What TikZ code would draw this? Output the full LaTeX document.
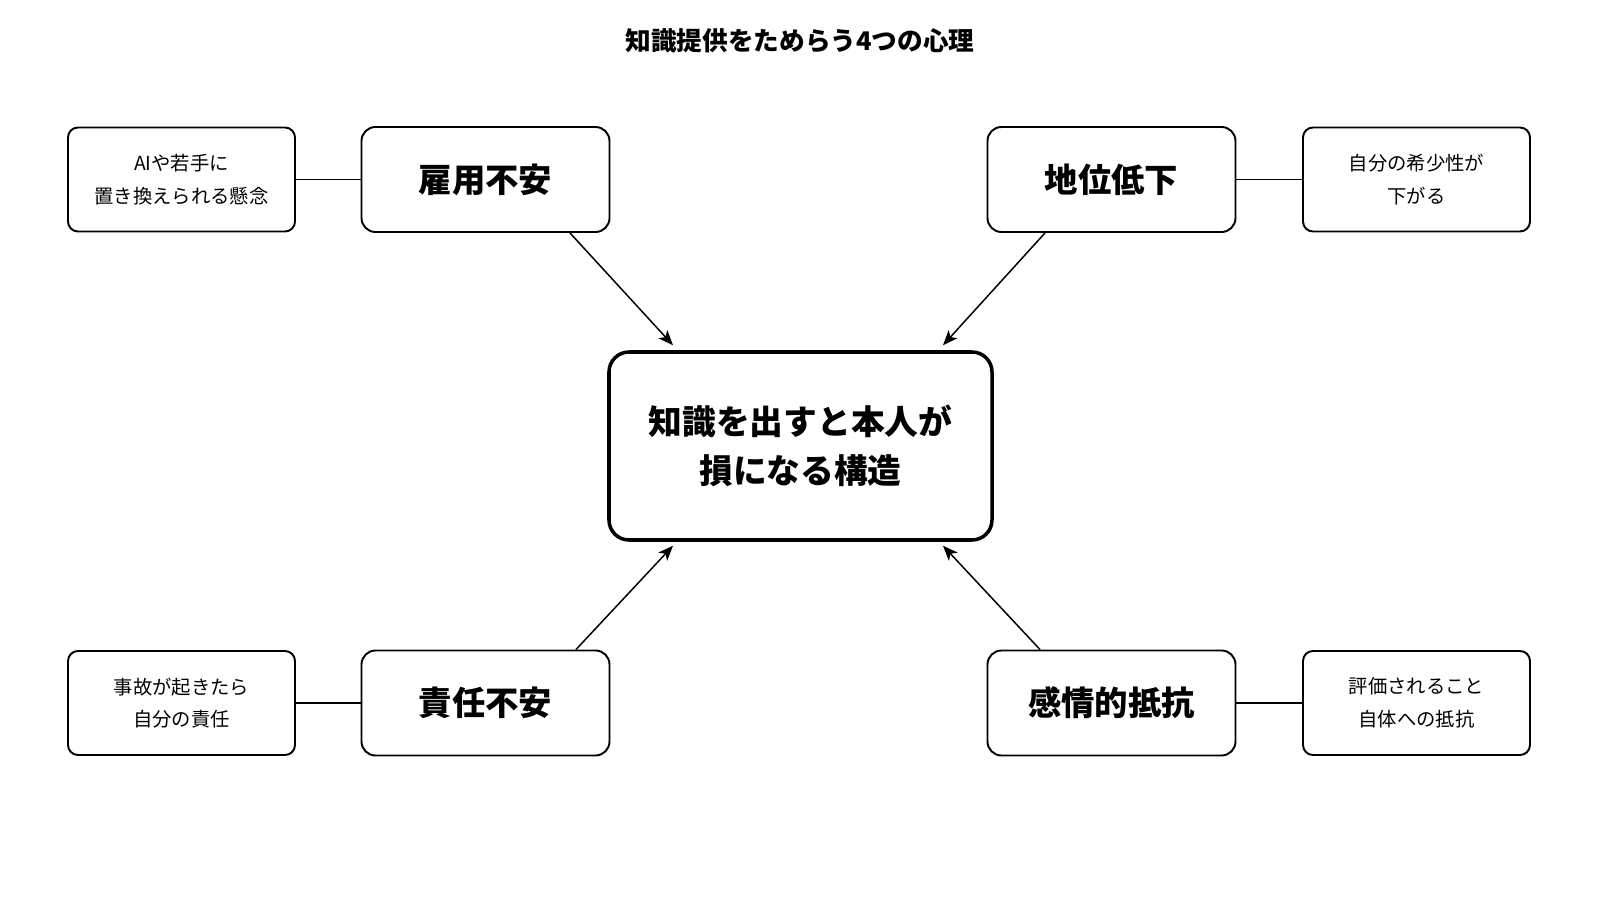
\documentclass[tikz,border=0pt]{standalone}
\usepackage{fontspec}
\setmainfont{Noto Sans CJK JP}
\usetikzlibrary{arrows.meta}

\begin{document}
\begin{tikzpicture}[
    cause/.style={draw,line width=1.1pt,rounded corners=0.28cm,minimum width=4.96cm,%
      minimum height=2.1cm,font=\fontsize{19}{23}\selectfont\bfseries},
    note/.style={draw,line width=1.1pt,rounded corners=0.2cm,minimum width=4.54cm,%
      minimum height=2.08cm,align=center,font=\fontsize{11}{18.6}\selectfont},
    hub/.style={draw,line width=2pt,rounded corners=0.4cm,minimum width=7.66cm,%
      minimum height=3.76cm,align=center,font=\fontsize{19.2}{27.5}\selectfont\bfseries},
    push/.style={line width=0.85pt,-{Stealth[length=0.3cm,width=0.24cm,inset=0.08cm]}}]
      \useasboundingbox (0,0) rectangle (32,18) ;
      \node[font=\fontsize{14.6}{18}\selectfont\bfseries] (title) at (16,17.18) %
      {知識提供をためらう4つの心理} ;
      \node[hub] (hub) at (16.01,9.08) {知識を出すと本人が\\損になる構造} ;
      % four causes round the hub
      \node[cause] (emp) at (9.71,14.41) {雇用不安} ;
      \node[cause] (rank) at (22.23,14.41) {地位低下} ;
      \node[cause] (duty) at (9.71,3.94) {責任不安} ;
      \node[cause] (feel) at (22.23,3.94) {感情的抵抗} ;
      \node[note] (empN) at (3.63,14.41) {AIや若手に\\置き換えられる懸念} ;
      \node[note] (rankN) at (28.33,14.41) {自分の希少性が\\下がる} ;
      \node[note] (dutyN) at (3.63,3.94) {事故が起きたら\\自分の責任} ;
      \node[note] (feelN) at (28.33,3.94) {評価されること\\自体への抵抗} ;
      \draw[line width=1.1pt] (empN) -- (emp) ;
      \draw[line width=1.1pt] (rank) -- (rankN) ;
      \draw[line width=1.1pt] (dutyN) -- (duty) ;
      \draw[line width=1.1pt] (feel) -- (feelN) ;
      \draw[push] ([xshift=1.69cm]emp.south) -- ([xshift=-2.55cm,yshift=0.1cm]hub.north) ;
      \draw[push] ([xshift=-1.33cm]rank.south) -- ([xshift=2.85cm,yshift=0.1cm]hub.north) ;
      \draw[push] ([xshift=1.81cm]duty.north) -- ([xshift=-2.55cm,yshift=-0.08cm]hub.south) ;
      \draw[push] ([xshift=-1.43cm]feel.north) -- ([xshift=2.85cm,yshift=-0.08cm]hub.south) ;
\end{tikzpicture}
\end{document}
